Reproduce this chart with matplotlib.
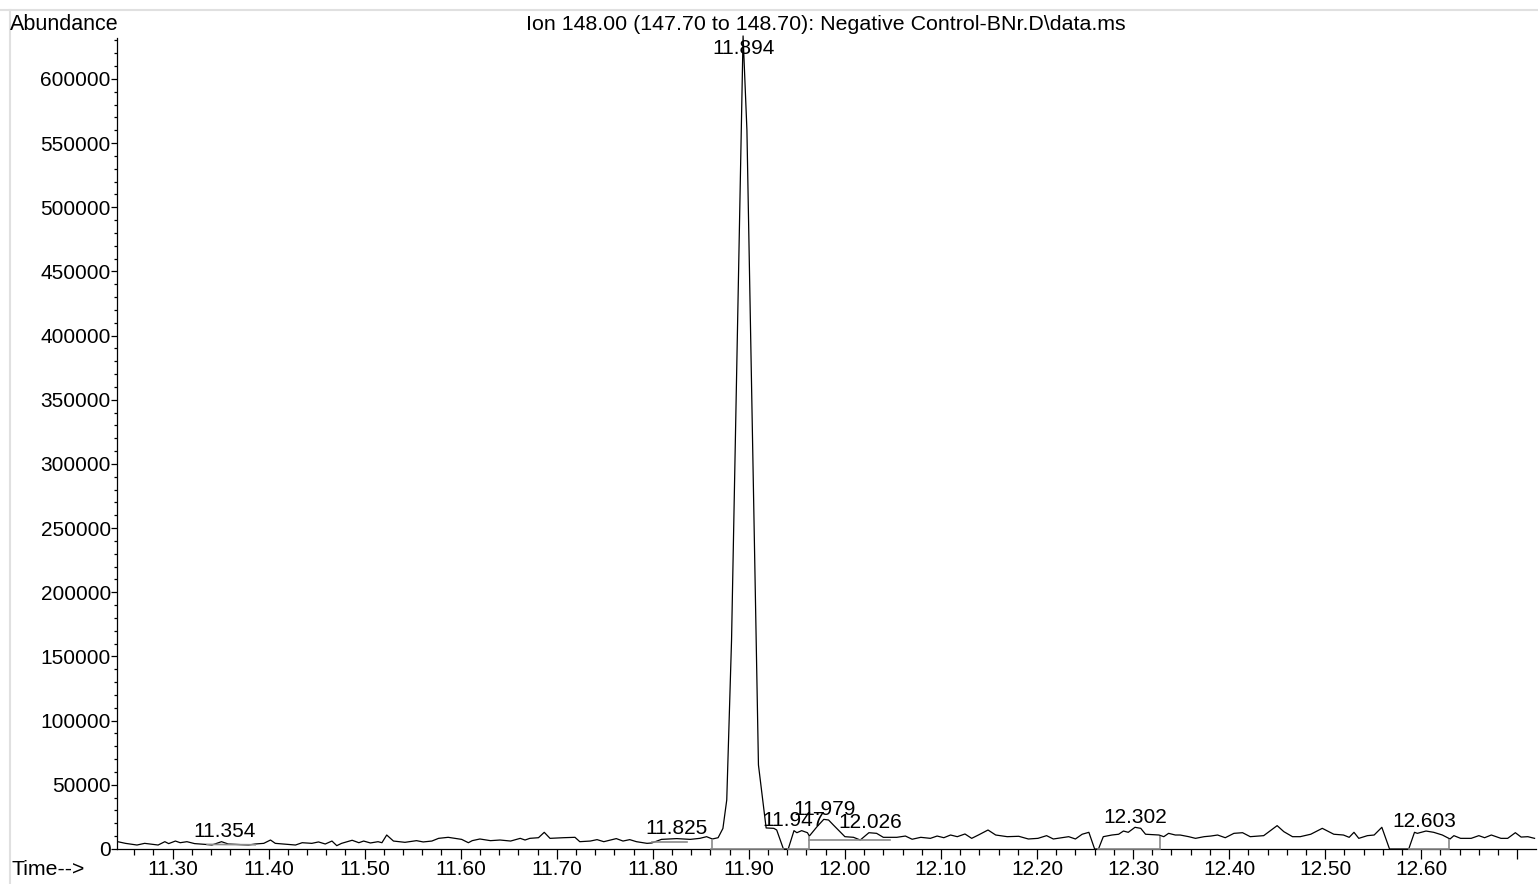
import matplotlib
matplotlib.use("Agg")
import matplotlib.pyplot as plt
from matplotlib.lines import Line2D
from matplotlib.ticker import MultipleLocator, FuncFormatter

plt.rcParams['font.family'] = ['Liberation Sans', 'DejaVu Sans']

# retention time (min) and abundance
time_min = [
    11.243, 11.251, 11.263, 11.271, 11.285, 11.292, 11.296, 11.303, 11.308, 11.315,
    11.323, 11.334, 11.341, 11.351, 11.358, 11.379, 11.386, 11.395, 11.402, 11.407,
    11.428, 11.435, 11.445, 11.452, 11.459, 11.466, 11.471, 11.476, 11.487, 11.494,
    11.499, 11.506, 11.514, 11.518, 11.523, 11.530, 11.542, 11.554, 11.561, 11.570,
    11.577, 11.587, 11.601, 11.608, 11.612, 11.620, 11.631, 11.641, 11.652, 11.662,
    11.667, 11.672, 11.681, 11.687, 11.693, 11.707, 11.719, 11.724, 11.735, 11.742,
    11.749, 11.762, 11.769, 11.776, 11.783, 11.794, 11.799, 11.809, 11.825, 11.839,
    11.849, 11.856, 11.862, 11.868, 11.873, 11.877, 11.882, 11.894, 11.898, 11.910,
    11.918, 11.926, 11.929, 11.936, 11.941, 11.947, 11.950, 11.955, 11.961, 11.963,
    11.971, 11.978, 11.983, 11.988, 12.000, 12.009, 12.016, 12.025, 12.033, 12.040,
    12.054, 12.063, 12.070, 12.079, 12.089, 12.096, 12.103, 12.110, 12.117, 12.125,
    12.132, 12.139, 12.149, 12.157, 12.169, 12.181, 12.191, 12.201, 12.210, 12.217,
    12.226, 12.233, 12.240, 12.247, 12.254, 12.260, 12.264, 12.269, 12.278, 12.285,
    12.290, 12.295, 12.302, 12.308, 12.313, 12.327, 12.332, 12.337, 12.344, 12.349,
    12.358, 12.365, 12.374, 12.381, 12.388, 12.396, 12.405, 12.414, 12.422, 12.436,
    12.450, 12.457, 12.466, 12.474, 12.485, 12.497, 12.509, 12.519, 12.525, 12.530,
    12.535, 12.544, 12.551, 12.559, 12.567, 12.587, 12.593, 12.596, 12.605, 12.613,
    12.622, 12.630, 12.634, 12.641, 12.652, 12.660, 12.666, 12.673, 12.683, 12.690,
    12.698, 12.704, 12.711, 12.718,
]
abundance = [
    5700, 4400, 3100, 4400, 3100, 5700, 4200, 6200, 4900, 5700,
    4200, 3600, 3100, 5700, 3900, 3100, 3900, 4400, 7000, 4400,
    3100, 4900, 4400, 5500, 3900, 6200, 2600, 4400, 6800, 4900,
    6200, 4700, 5700, 4900, 10900, 6200, 5200, 6500, 5500, 6200,
    8300, 9100, 7500, 4900, 6500, 7800, 6500, 7000, 6200, 8300,
    7000, 8300, 8800, 13000, 8300, 8800, 9100, 5700, 6200, 7300,
    5700, 8100, 6200, 7300, 5700, 4400, 4700, 7500, 8100, 7500,
    8300, 9600, 7800, 8800, 16000, 38200, 162900, 633500, 560200, 65500,
    16400, 16100, 14800, 0, 0, 14300, 12700, 14300, 12700, 10100,
    17400, 23100, 22600, 18700, 9600, 9100, 7000, 12700, 12200, 9100,
    9100, 10100, 7600, 9100, 8300, 10100, 8800, 10900, 9600, 11700,
    8300, 10900, 14800, 10900, 9600, 9900, 7800, 8300, 10400, 7800,
    8800, 9600, 7800, 11500, 13000, 0, 0, 9600, 10900, 11500,
    14000, 13000, 16900, 16100, 11500, 10900, 9600, 12200, 10900, 10900,
    9600, 8300, 9600, 10100, 10900, 8800, 12200, 12700, 9600, 10400,
    18200, 13500, 9600, 9600, 11500, 16100, 11500, 10900, 9100, 13000,
    8300, 10400, 10900, 16900, 0, 0, 13000, 12200, 14000, 13000,
    10900, 7800, 10400, 8300, 8300, 10400, 8800, 10900, 8300, 8300,
    12700, 9300, 9600, 8300,
]

# integrated peaks
peak_rt = [11.354, 11.825, 11.894, 11.947, 11.979, 12.026, 12.302, 12.603]
peak_height = [5700, 8100, 633500, 14300, 23100, 12700, 16900, 14000]
peak_labels = ["11.354", "11.825", "11.894", "11.947", "11.979", "12.026", "12.302", "12.603"]

# integration baselines: start time, end time, start level, end level
base_start = [11.336, 11.799, 11.861, 11.941, 11.963, 12.264, 12.587]
base_end = [11.386, 11.836, 11.936, 11.963, 12.047, 12.328, 12.629]
base_lvl0 = [3600, 5200, 0, 0, 7000, 0, 0]
base_lvl1 = [3300, 5200, 0, 0, 7000, 0, 0]
drop_rt = [11.862, 11.963, 12.328, 12.629]
drop_top = [7800, 10100, 10100, 7800]

W, H = 1538, 884
fig = plt.figure(figsize=(W / 100, H / 100), dpi=100)
ax = fig.add_axes([117 / W, (H - 849) / H, (1536 - 117) / W, (849 - 38) / H])

ax.plot(time_min, abundance, color='black', lw=0.9, clip_on=False, zorder=3)
for s, e, l0, l1 in zip(base_start, base_end, base_lvl0, base_lvl1):
    ax.plot([s, e], [l0, l1], color='#8a8a8a', lw=1.2, clip_on=False, zorder=4)
ax.vlines(drop_rt, 0, drop_top, color='#8a8a8a', lw=1.2, clip_on=False, zorder=4)

for rt, h, txt in zip(peak_rt, peak_height, peak_labels):
    # the tallest label does not fit above the apex, so it sits just under it
    dy = -18 if h > 500000 else 4.5
    ax.annotate(txt, (rt, h), xytext=(0, dy), textcoords='offset pixels',
                ha='center', va='baseline', fontsize=15, zorder=5,
                annotation_clip=False)

ax.set_xlim(11.2422, 12.7195)
ax.set_ylim(0, 631900)
for side in ['top', 'right']:
    ax.spines[side].set_visible(False)
for side in ['left', 'bottom']:
    ax.spines[side].set_linewidth(0.9)

ax.xaxis.set_major_locator(MultipleLocator(0.1))
ax.xaxis.set_minor_locator(MultipleLocator(0.02))
ax.xaxis.set_major_formatter(FuncFormatter(lambda v, p: f"{v:.2f}" if v < 12.65 else ""))
ax.yaxis.set_major_locator(MultipleLocator(50000))
ax.yaxis.set_minor_locator(MultipleLocator(10000))
ax.yaxis.set_major_formatter(FuncFormatter(lambda v, p: f"{v:.0f}"))

ax.tick_params(axis='x', which='major', length=7, width=0.9, pad=1, labelsize=15)
ax.tick_params(axis='x', which='minor', length=4.5, width=0.9)
ax.tick_params(axis='y', which='major', length=4, width=0.9, pad=0.5, labelsize=15)
ax.tick_params(axis='y', which='minor', length=2.5, width=0.9)

fig.text(10 / W, 1 - 30 / H, "Abundance", fontsize=15.5, ha='left', va='baseline')
fig.text(826 / W, 1 - 30 / H, "Ion 148.00 (147.70 to 148.70): Negative Control-BNr.D\\data.ms",
         fontsize=15.4, ha='center', va='baseline')
fig.text(12 / W, 1 - 875 / H, "Time-->", fontsize=15.3, ha='left', va='baseline')

# light frame of the report page
fig.add_artist(Line2D([0, 1], [1 - 10 / H, 1 - 10 / H], transform=fig.transFigure,
                      color='#e0e0e0', lw=1.5))
fig.add_artist(Line2D([10 / W, 10 / W], [0, 1 - 10 / H], transform=fig.transFigure,
                      color='#e0e0e0', lw=1.5))

fig.savefig('out.png', dpi=100)
